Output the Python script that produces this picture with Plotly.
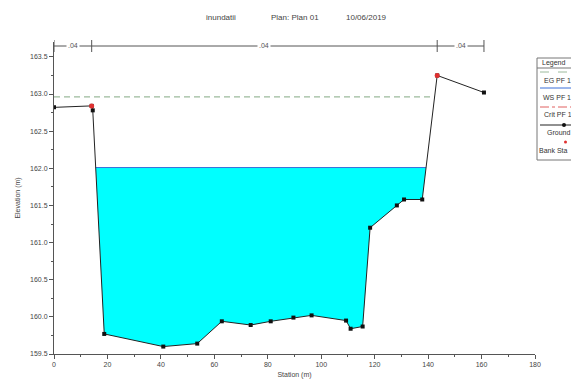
import numpy as np
import plotly.graph_objects as go

###################
####   DATA    ####
###################
ground_sta = [0, 14.1, 14.5, 18.8, 40.9, 53.6, 62.8, 73.6, 81.1, 89.6, 96.4,
              109.3, 111.0, 115.5, 118.3, 128.3, 131.0, 137.8, 143.4, 160.9]
ground_elev = [162.82, 162.84, 162.78, 159.77, 159.60, 159.64, 159.94, 159.89, 159.94, 159.99, 160.02,
               159.95, 159.84, 159.87, 161.20, 161.50, 161.58, 161.58, 163.25, 163.02]
bank_sta = [14.1, 143.4]
mannings_n = [".04", ".04", ".04"]
ws_elev = 162.01   # WS PF 1
eg_elev = 162.96   # EG PF 1
legend_labels = ["EG PF 1", "WS PF 1", "Crit PF 1", "Ground", "Bank Sta"]
title_parts = ["inundatii", "Plan: Plan 01", "10/06/2019"]

###################
####  LAYOUT   ####
###################
OFF = 8   # page body margin of the html page
W, H = 579 - OFF, 385 - OFF
ML, MR, MT, MB = 54 - OFF, 44, 42 - OFF, 31
PW, PH = W - ML - MR, H - MT - MB
FONT = "Liberation Sans"
GRAY = "#555555"


# screen pixel -> paper coordinates
def px(p):
    return (p - OFF - ML) / PW


def py(p):
    return (OFF + H - MB - p) / PH


def label(x, y, text, size=7, color="#333333", xanchor="center"):
    return dict(x=px(x), y=py(y), xref="paper", yref="paper", text=text,
                xanchor=xanchor, yanchor="middle", showarrow=False,
                font=dict(size=size, color=color, family=FONT))


def wet_limits(level):
    sta = np.array(ground_sta)
    elev = np.array(ground_elev)
    below = np.where(elev < level)[0]
    i, j = below[0], below[-1]
    if i == 0:
        left = sta[0]
    else:
        left = sta[i - 1] + (elev[i - 1] - level) / (elev[i - 1] - elev[i]) * (sta[i] - sta[i - 1])
    if j == len(sta) - 1:
        right = sta[-1]
    else:
        right = sta[j] + (level - elev[j]) / (elev[j + 1] - elev[j]) * (sta[j + 1] - sta[j])
    return left, right, i, j


fig = go.Figure()

# water area
wl, wr, i, j = wet_limits(ws_elev)
poly_x = [wl] + ground_sta[i:j + 1] + [wr, wl]
poly_y = [ws_elev] + ground_elev[i:j + 1] + [ws_elev, ws_elev]
fig.add_trace(go.Scatter(x=poly_x, y=poly_y, fill="toself", fillcolor="#00ffff",
                         mode="lines", line=dict(width=0), showlegend=False, hoverinfo="skip"))
fig.add_trace(go.Scatter(x=[wl, wr], y=[ws_elev, ws_elev], mode="lines",
                         line=dict(color="#3a6fd8", width=1), showlegend=False))

# energy grade
el, er, _, _ = wet_limits(eg_elev)
fig.add_trace(go.Scatter(x=[el, er], y=[eg_elev, eg_elev], mode="lines",
                         line=dict(color="#9cba9c", width=1.2, dash="6px,4px"), showlegend=False))

# ground
fig.add_trace(go.Scatter(x=ground_sta, y=ground_elev, mode="lines+markers",
                         line=dict(color="#222222", width=1),
                         marker=dict(color="#111111", size=4, symbol="square"), showlegend=False))

# bank stations
bank_elev = list(np.interp(bank_sta, ground_sta, ground_elev))
fig.add_trace(go.Scatter(x=bank_sta, y=bank_elev, mode="markers",
                         marker=dict(color="#e03030", size=5), showlegend=False))

shapes = []
annotations = []

# mannings n bar along the top
bar_y = py(46)
bounds = [ground_sta[0]] + bank_sta + [ground_sta[-1]]
shapes.append(dict(type="line", xref="x", yref="paper", x0=bounds[0], x1=bounds[-1],
                   y0=bar_y, y1=bar_y, line=dict(color=GRAY, width=1)))
for b in bounds:
    shapes.append(dict(type="line", xref="x", yref="paper", x0=b, x1=b,
                       y0=py(52), y1=py(40), line=dict(color=GRAY, width=1)))
for k, n in enumerate(mannings_n):
    annotations.append(dict(x=(bounds[k] + bounds[k + 1]) / 2, y=bar_y, xref="x", yref="paper",
                            text=n, showarrow=False, bgcolor="white",
                            xanchor="center", yanchor="middle",
                            font=dict(size=7, color=GRAY, family=FONT)))

# title
for txt, xp in zip(title_parts, [221, 295, 366]):
    annotations.append(label(xp, 17, txt, size=8, color="#444444"))

# legend box (cut off by the right edge, as in the original export)
lx0, lx1 = px(537), px(600)
shapes.append(dict(type="rect", xref="paper", yref="paper", x0=lx0, x1=lx1, y0=py(58), y1=py(160),
                   line=dict(color="#777777", width=1), fillcolor="white", layer="below"))
shapes.append(dict(type="line", xref="paper", yref="paper", x0=lx0, x1=lx1, y0=py(68), y1=py(68),
                   line=dict(color="#777777", width=1)))
annotations.append(label(540, 63, "Legend", xanchor="left"))
samples = [(72, "#9cba9c", "dash"), (88, "#3a6fd8", "solid"), (107, "#e06060", "dashdot"), (125, "#222222", "solid")]
for yy, col, dash in samples:
    shapes.append(dict(type="line", xref="paper", yref="paper", x0=px(540), x1=px(592),
                       y0=py(yy), y1=py(yy), line=dict(color=col, width=1, dash=dash)))
shapes.append(dict(type="circle", xref="paper", yref="paper", x0=px(562), x1=px(566),
                   y0=py(127), y1=py(123), fillcolor="#111111", line=dict(width=0)))
shapes.append(dict(type="circle", xref="paper", yref="paper", x0=px(564), x1=px(567),
                   y0=py(143.5), y1=py(140.5), fillcolor="#e03030", line=dict(width=0)))
for txt, yy, xl in zip(legend_labels, [80, 97, 115, 133, 150], [542, 541, 542, 545, 537]):
    annotations.append(label(xl, yy, txt, xanchor="left"))

fig.update_layout(
    width=W, height=H,
    margin=dict(l=ML, r=MR, t=MT, b=MB, autoexpand=False),
    plot_bgcolor="white", paper_bgcolor="white",
    font=dict(family=FONT, size=7, color="#444444"),
    shapes=shapes, annotations=annotations,
    showlegend=False,
)
fig.update_xaxes(range=[0, 180], tickvals=list(range(0, 181, 20)), showgrid=False, zeroline=False,
                 automargin=False,
                 showline=True, linecolor=GRAY, ticks="outside", ticklen=4, tickcolor=GRAY,
                 minor=dict(dtick=10, ticks="outside", ticklen=2, tickcolor=GRAY),
                 title=dict(text="Station (m)", standoff=4, font=dict(size=7)))
fig.update_yaxes(range=[159.5, 163.7], tickvals=[159.5 + 0.5 * k for k in range(9)], tickformat=".1f",
                 automargin=False,
                 showgrid=False, zeroline=False, showline=True, linecolor=GRAY,
                 ticks="outside", ticklen=4, tickcolor=GRAY,
                 minor=dict(dtick=0.25, ticks="outside", ticklen=2, tickcolor=GRAY),
                 title=dict(text="Elevation (m)", standoff=8, font=dict(size=7)))

fig.write_html("out.html")
